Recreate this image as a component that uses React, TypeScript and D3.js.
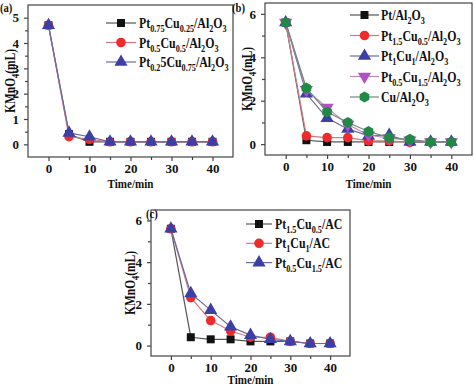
import React, { useEffect, useRef } from 'react';
import * as d3 from 'd3';

// time points shared by every panel
const times = [0, 5, 10, 15, 20, 25, 30, 35, 40];

// panel (a)
const aPt075 = [4.7, 0.4, 0.1, 0.1, 0.1, 0.1, 0.1, 0.1, 0.1];
const aPt05 = [4.7, 0.3, 0.2, 0.1, 0.1, 0.1, 0.1, 0.1, 0.1];
const aPt025 = [4.7, 0.45, 0.3, 0.1, 0.1, 0.1, 0.1, 0.1, 0.1];
const aLabels = ['Pt_{0.75}Cu_{0.25}/Al_{2}O_{3}', 'Pt_{0.5}Cu_{0.5}/Al_{2}O_{3}', 'Pt_{0.2}5Cu_{0.75}/Al_{2}O_{3}'];

// panel (b)
const bPt = [5.6, 0.18, 0.1, 0.1, 0.1, 0.1, 0.1, 0.1, 0.1];
const bPt15 = [5.6, 0.38, 0.3, 0.3, 0.15, 0.15, 0.08, 0.1, 0.1];
const bPt1 = [5.6, 2.32, 1.2, 0.7, 0.38, 0.42, 0.1, 0.1, 0.1];
const bPt05 = [5.6, 2.5, 1.68, 0.9, 0.42, 0.28, 0.18, 0.1, 0.1];
const bCu = [5.6, 2.58, 1.48, 1.0, 0.58, 0.3, 0.22, 0.1, 0.1];
const bLabels = ['Pt/Al_{2}O_{3}', 'Pt_{1.5}Cu_{0.5}/Al_{2}O_{3}', 'Pt_{1}Cu_{1}/Al_{2}O_{3}', 'Pt_{0.5}Cu_{1.5}/Al_{2}O_{3}', 'Cu/Al_{2}O_{3}'];

// panel (c)
const cPt15 = [5.6, 0.4, 0.3, 0.3, 0.2, 0.2, 0.2, 0.1, 0.1];
const cPt1 = [5.6, 2.3, 1.2, 0.7, 0.4, 0.4, 0.2, 0.1, 0.1];
const cPt05 = [5.6, 2.5, 1.7, 0.9, 0.5, 0.3, 0.2, 0.1, 0.1];
const cLabels = ['Pt_{1.5}Cu_{0.5}/AC', 'Pt_{1}Cu_{1}/AC', 'Pt_{0.5}Cu_{1.5}/AC'];

const FONT = 'Liberation Serif, Times New Roman, Times, serif';
const SQUEEZE = 0.82; // the printed figure's lettering is narrow

const hexagon = {
  draw(ctx, size) {
    const r = Math.sqrt(size / 2.6);
    for (let i = 0; i < 6; i++) {
      const a = Math.PI / 6 + (i * Math.PI) / 3;
      if (i === 0) ctx.moveTo(r * Math.cos(a), r * Math.sin(a));
      else ctx.lineTo(r * Math.cos(a), r * Math.sin(a));
    }
    ctx.closePath();
  },
};

const styles = {
  square: { sym: d3.symbolSquare, size: 64, fill: '#111111', line: '#555555', rot: 0 },
  circle: { sym: d3.symbolCircle, size: 72, fill: '#ee2a2a', line: '#d07a86', rot: 0 },
  tri: { sym: d3.symbolTriangle, size: 75, fill: '#3b3fa6', line: '#6a6a9e', rot: 0 },
  down: { sym: d3.symbolTriangle, size: 75, fill: '#b24fc4', line: '#b88ab8', rot: 180 },
  hex: { sym: hexagon, size: 80, fill: '#1f8a45', line: '#6f8a78', rot: 0 },
};

// split "Pt_{0.5}Cu" into normal and subscript pieces
const parts = (s) => {
  const out = [];
  const re = /_\{([^}]*)\}|[^_]+/g;
  let m;
  while ((m = re.exec(s))) {
    if (m[1] !== undefined) out.push({ t: m[1], sub: true });
    else out.push({ t: m[0], sub: false });
  }
  return out;
};

const writeRich = (textSel, s, subSize) => {
  let prevSub = false;
  parts(s).forEach((p) => {
    const ts = textSel.append('tspan').text(p.t);
    if (p.sub) {
      ts.attr('font-size', subSize).attr('dy', prevSub ? 0 : 4);
    } else if (prevSub) {
      ts.attr('dy', -4);
    }
    prevSub = p.sub;
  });
};

// narrow text placed at x,y (optionally turned upright)
const narrowText = (g, x, y, s, size, anchor, rotate = false) => {
  const t = g.append('text')
    .attr('transform', `translate(${x},${y})${rotate ? ' rotate(-90)' : ''} scale(${SQUEEZE},1)`)
    .attr('text-anchor', anchor).attr('font-size', size).attr('fill', '#111');
  writeRich(t, s, Math.round(size * 0.68));
  return t;
};

const panels = [
  {
    tag: '(a)', tagX: 0, tagY: 12,
    box: { l: 28, r: 233, t: 5, b: 157 },
    yDomain: [-0.5, 5.5], yTicks: [0, 1, 2, 3, 4, 5], yMinor: [0.5, 1.5, 2.5, 3.5, 4.5],
    series: [aPt075, aPt05, aPt025], kinds: ['square', 'circle', 'tri'], labels: aLabels,
    legend: { x1: 106, x2: 136, tx: 139, y0: 23, dy: 19.5 },
    xTitleY: 188, yTitleX: 15,
  },
  {
    tag: '(b)', tagX: 232, tagY: 12,
    box: { l: 265, r: 472, t: 3, b: 155 },
    yDomain: [-0.5, 6.5], yTicks: [0, 2, 4, 6], yMinor: [1, 3, 5],
    series: [bPt, bPt15, bPt1, bPt05, bCu], kinds: ['square', 'circle', 'tri', 'down', 'hex'], labels: bLabels,
    legend: { x1: 350, x2: 379, tx: 381, y0: 15, dy: 20.5 },
    xTitleY: 188, yTitleX: 252,
  },
  {
    tag: '(c)', tagX: 146, tagY: 218,
    box: { l: 151, r: 350, t: 210, b: 356 },
    yDomain: [-0.5, 6.5], yTicks: [0, 2, 4, 6], yMinor: [1, 3, 5],
    series: [cPt15, cPt1, cPt05], kinds: ['square', 'circle', 'tri'], labels: cLabels,
    legend: { x1: 246, x2: 272, tx: 275, y0: 224, dy: 19.3 },
    xTitleY: 384, yTitleX: 135,
  },
];

export default function App() {
  const ref = useRef(null);

  useEffect(() => {
    const svg = d3.select(ref.current);
    svg.selectAll('*').remove();

    panels.forEach((p) => {
      const g = svg.append('g').style('font-family', FONT).attr('font-weight', 'bold');
      const x = d3.scaleLinear().domain([-5, 45]).range([p.box.l, p.box.r]);
      const y = d3.scaleLinear().domain(p.yDomain).range([p.box.b, p.box.t]);

      // frame
      g.append('rect')
        .attr('x', p.box.l).attr('y', p.box.t)
        .attr('width', p.box.r - p.box.l).attr('height', p.box.b - p.box.t)
        .attr('fill', 'none').attr('stroke', '#444').attr('stroke-width', 1.2);

      // x axis
      const xAx = g.append('g').attr('transform', `translate(0,${p.box.b})`)
        .call(d3.axisBottom(x).tickValues([0, 10, 20, 30, 40]).tickSize(4).tickPadding(3).tickFormat(d3.format('d')));
      g.append('g').attr('transform', `translate(0,${p.box.b})`)
        .call(d3.axisBottom(x).tickValues([5, 15, 25, 35]).tickSize(3).tickFormat(() => ''))
        .select('.domain').remove();

      // y axis
      const yAx = g.append('g').attr('transform', `translate(${p.box.l},0)`)
        .call(d3.axisLeft(y).tickValues(p.yTicks).tickSize(4).tickPadding(5).tickFormat(d3.format('d')));
      g.append('g').attr('transform', `translate(${p.box.l},0)`)
        .call(d3.axisLeft(y).tickValues(p.yMinor).tickSize(3).tickFormat(() => ''))
        .select('.domain').remove();

      [xAx, yAx].forEach((a) => {
        a.select('.domain').remove();
        a.selectAll('text').style('font-family', FONT).attr('font-size', 13).attr('font-weight', 'bold').attr('fill', '#111');
      });
      g.selectAll('.tick line').attr('stroke', '#444').attr('stroke-width', 1.2);

      // series
      p.series.forEach((vals, i) => {
        const st = styles[p.kinds[i]];
        const pts = times.map((t, j) => [t, vals[j]]);
        g.append('path')
          .attr('d', d3.line().x((d) => x(d[0])).y((d) => y(d[1]))(pts))
          .attr('fill', 'none').attr('stroke', st.line).attr('stroke-width', 1.2);
        const sym = d3.symbol().type(st.sym).size(st.size);
        g.selectAll(null).data(pts).enter().append('path')
          .attr('d', sym)
          .attr('transform', (d) => `translate(${x(d[0])},${y(d[1])}) rotate(${st.rot})`)
          .attr('fill', st.fill);
      });

      // legend
      p.labels.forEach((lab, i) => {
        const st = styles[p.kinds[i]];
        const ly = p.legend.y0 + i * p.legend.dy;
        g.append('line')
          .attr('x1', p.legend.x1).attr('x2', p.legend.x2).attr('y1', ly).attr('y2', ly)
          .attr('stroke', st.line).attr('stroke-width', 1.2);
        g.append('path')
          .attr('d', d3.symbol().type(st.sym).size(st.size)())
          .attr('transform', `translate(${(p.legend.x1 + p.legend.x2) / 2},${ly}) rotate(${st.rot})`)
          .attr('fill', st.fill);
        narrowText(g, p.legend.tx, ly + 5, lab, 14.5, 'start');
      });

      // titles
      narrowText(g, (x(-5) + x(45)) / 2, p.xTitleY, 'Time/min', 13.5, 'middle');
      narrowText(g, p.yTitleX, (p.box.t + p.box.b) / 2, 'KMnO_{4}(mL)', 14, 'middle', true);
      narrowText(g, p.tagX, p.tagY, p.tag, 13, 'start');
    });
  }, []);

  return (
    <svg ref={ref} width={474} height={387}
      style={{ position: 'absolute', left: 0, top: 0, background: '#fff' }} />
  );
}
